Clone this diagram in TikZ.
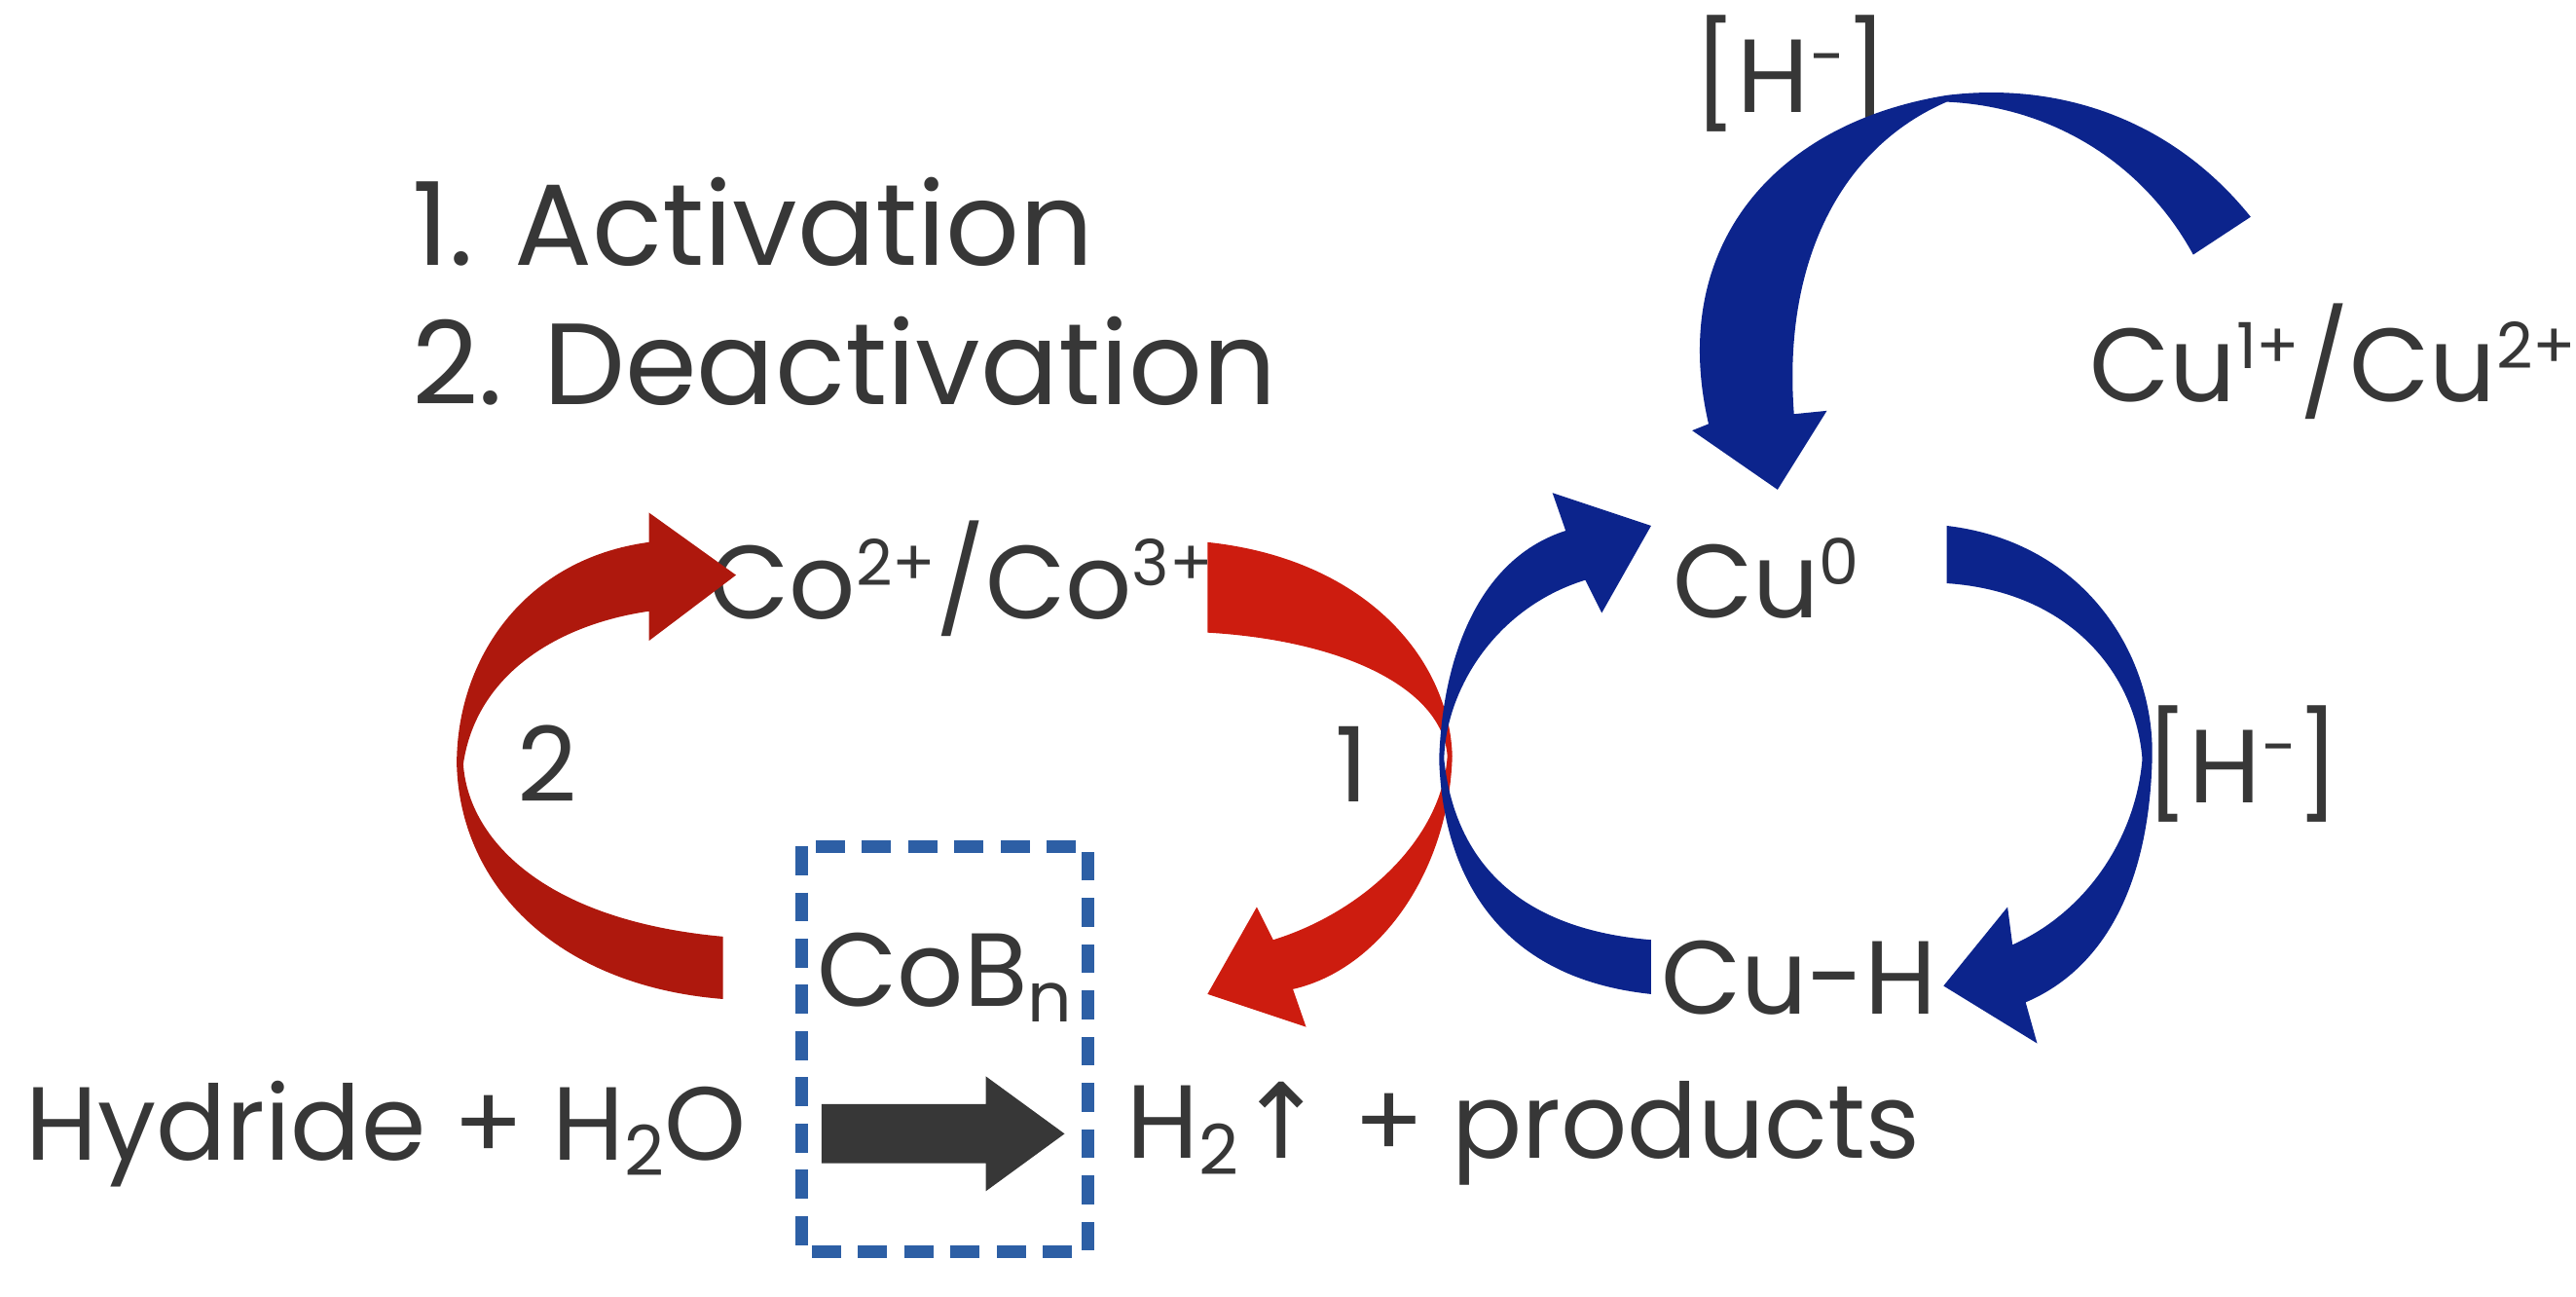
\documentclass[tikz,border=0pt]{standalone}
\usepackage{fontspec}
\setmainfont{Poppins}
\newfontfamily\dv{DejaVu Sans}
\newcommand{\sps}[1]{\raisebox{0.32em}{\fontsize{11}{11}\selectfont #1}}
\newcommand{\sbs}[1]{\raisebox{-0.15em}{\fontsize{12}{12}\selectfont #1}}
\definecolor{txt}{RGB}{55,55,55}
\definecolor{redA}{RGB}{205,28,15}
\definecolor{bluA}{RGB}{12,36,140}
\definecolor{boxc}{RGB}{45,95,165}
\begin{document}
\begin{tikzpicture}[x=0.01cm,y=-0.01cm,
  lab/.style={text=txt,font=\fontsize{18}{20}\selectfont,inner sep=0pt},
  big/.style={text=txt,font=\fontsize{20}{24}\selectfont,inner sep=0pt,anchor=west}]
\useasboundingbox (0,0) rectangle (1568,789);
% texts
\node[big] (act) at (250,135) {1. Activation};
\node[big] (deact) at (250,220) {2. Deactivation};
\node[lab] (co) at (585,352) {Co\sps{2+}/Co\sps{3+}};
\node[lab] (cu0) at (1075,352) {Cu\sps{0}};
\node[lab] (cu12) at (1420,220) {Cu\sps{1+}/Cu\sps{2+}};
\node[lab] (h1) at (1090,45) {[H\sps{−}]};
\node[lab] (h2) at (1365,465) {[H\sps{−}]};
\node[lab] (cuh) at (1095,595) {Cu-H};
\node[lab] (cob) at (575,595) {CoB\sbs{n}};
\node[lab,anchor=west] (hyd) at (15,690) {Hydride + H\sbs{2}O};
\node[lab,anchor=west] (prod) at (685,690) {H\sbs{2}{\dv ↑} + products};
\node[lab] (two) at (333,465) {2};
\node[lab] (one) at (823,465) {1};
% box
\draw[boxc,dashed,line width=2.2pt,dash pattern=on 5pt off 3pt] (488,515) rectangle (662,762);
% black arrow
\fill[txt] (500,672) -- (600,672) -- (600,655) -- (648,690) -- (600,725) -- (600,708) -- (500,708) -- cycle;
% red left (2)
\fill[redA!85!black] (440,570) .. controls (330,560) and (285,510) .. (282,465)
  .. controls (290,410) and (340,380) .. (395,372) -- (395,390) -- (448,350) -- (395,312) -- (395,330)
  .. controls (320,340) and (278,400) .. (278,465) .. controls (280,540) and (340,600) .. (440,608) -- cycle;
% red right (1)
\fill[redA] (735,330) .. controls (830,340) and (882,400) .. (884,460)
  .. controls (882,530) and (840,590) .. (787,602) -- (795,625) -- (735,605) -- (765,552) -- (775,572)
  .. controls (830,555) and (878,510) .. (881,460) .. controls (878,420) and (820,390) .. (735,385) -- cycle;
% blue left
\fill[bluA] (1005,605) .. controls (910,595) and (878,530) .. (876,462)
  .. controls (878,400) and (900,340) .. (953,323) -- (945,300) -- (1005,320) -- (975,373) -- (965,353)
  .. controls (910,370) and (880,420) .. (879,462) .. controls (885,520) and (920,565) .. (1005,572) -- cycle;
% blue right
\fill[bluA] (1185,320) .. controls (1270,330) and (1312,400) .. (1310,462)
  .. controls (1308,540) and (1280,590) .. (1233,610) -- (1240,635) -- (1183,600) -- (1222,552) -- (1225,575)
  .. controls (1270,555) and (1300,510) .. (1304,462) .. controls (1300,410) and (1260,360) .. (1185,355) -- cycle;
% blue top
\fill[bluA] (1370,132) .. controls (1320,70) and (1250,50) .. (1185,58)
  .. controls (1080,75) and (1015,150) .. (1040,258) -- (1030,262) -- (1082,298) -- (1112,250) -- (1092,252)
  .. controls (1085,160) and (1120,90) .. (1185,62) .. controls (1250,65) and (1305,100) .. (1335,155) -- cycle;
\end{tikzpicture}
\end{document}
